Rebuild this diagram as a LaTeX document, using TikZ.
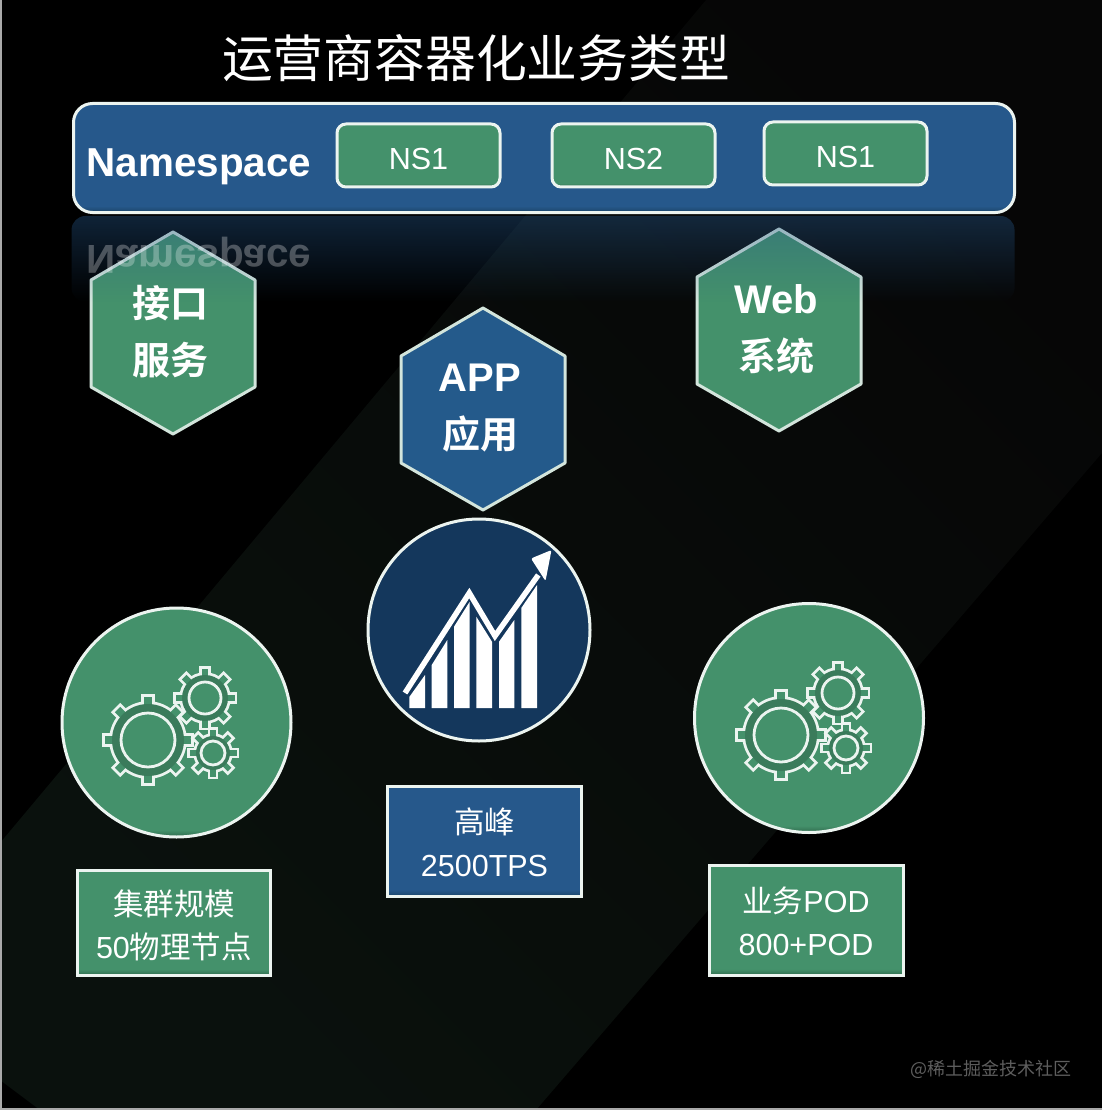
\documentclass[tikz,border=0pt]{standalone}
\usepackage{fontspec}
\setmainfont{Liberation Sans}
\newfontfamily\cjk{Noto Sans CJK SC}
\newfontfamily\cjkb{Noto Sans CJK SC Bold}
\usetikzlibrary{fadings}
\definecolor{bandlow}{HTML}{0A110D}
\definecolor{bandhigh}{HTML}{060606}
\definecolor{nsblue}{HTML}{26588B}
\definecolor{nsdark}{HTML}{1B4468}
\definecolor{appblue}{HTML}{245A8B}
\definecolor{navy}{HTML}{14375C}
\definecolor{grn}{HTML}{44916B}
\definecolor{grndark}{HTML}{2F6A4D}
\definecolor{wm}{HTML}{5E5E5E}
\definecolor{edge}{HTML}{ECF4F0}
\definecolor{frameline}{HTML}{AAAAAA}
\pgfdeclareverticalshading{grnshade}{100bp}{color(0bp)=(grndark);color(25bp)=(grndark);color(28bp)=(grn);color(100bp)=(grn)}
\pgfdeclareverticalshading{grnround}{100bp}{color(0bp)=(grndark);color(25bp)=(grndark);color(26.5bp)=(grn);color(100bp)=(grn)}
\pgfdeclareverticalshading{blueshade}{100bp}{color(0bp)=(nsdark);color(25bp)=(nsdark);color(28bp)=(nsblue);color(100bp)=(nsblue)}
\tikzfading[name=reflectfade,top color=transparent!60,bottom color=transparent!100]
\tikzset{
  x=1pt,y=-1pt,
  hexa/.style={draw=edge!85!grn,line width=3pt,line join=round},
  hextext/.style={text=white,align=center,font=\fontsize{38}{57}\selectfont\cjkb},
  nsbox/.style={draw=edge,shading=grnshade,line width=3pt,rounded corners=9pt,minimum width=163pt,minimum height=63pt,text=white,inner sep=0pt,text height=27.5pt,text depth=0pt,font=\fontsize{30.5}{36}\selectfont},
  infobox/.style={draw=edge,line width=3pt,minimum width=194pt,minimum height=110pt,inner sep=0pt},
  infotext/.style={text=white,align=center,inner sep=0pt,font=\fontsize{30.5}{43}\selectfont},
  disc/.style={circle,draw=edge,line width=3pt,inner sep=0pt},
  gearline/.style={draw=edge,line width=2.8pt},
  nstext/.style={font=\fontsize{40.4}{48}\selectfont\bfseries,text=white,inner sep=0pt},
}
\newcommand{\latinb}[1]{{\fontsize{40}{57}\selectfont\normalfont\bfseries #1}}
% center x, center y, radius, tooth half width, tooth outer radius, hole radius, teeth
\newcommand{\gearicon}[7]{%
  \begin{scope}[shift={(#1,#2)}]
    \pgfmathsetmacro{\gstep}{360/#7}
    \foreach \ga in {1,...,#7}{
      \begin{scope}[rotate=\ga*\gstep]
        \draw[gearline,fill=edge,line width=5.6pt] (#4,0) rectangle (-#4,-#5);
      \end{scope}}
    \draw[gearline,line width=5.6pt,fill=edge] (0,0) circle (#3);
    \foreach \ga in {1,...,#7}{
      \begin{scope}[rotate=\ga*\gstep]
        \fill[grn] (#4,0) rectangle (-#4,-#5);
      \end{scope}}
    \fill[grn!85!black] (0,0) circle (#3);
    \draw[gearline,fill=grn] (0,0) circle (#6);
  \end{scope}}
\newcommand{\hexpath}[2]{(#1,#2) -- ++(82,48) -- ++(0,107) -- ++(-82,47) -- ++(-82,-47) -- ++(0,-107) -- cycle}
\begin{document}
\begin{tikzpicture}
\useasboundingbox (0,0) rectangle (1102,1110);
\fill[black] (0,0) rectangle (1102,1110);
% diagonal band of the background
\shade[top color=bandhigh,bottom color=bandlow,shading angle=-45]
  (0,843) -- (706,0) -- (1102,0) -- (1102,453) -- (536,1110) -- (40,1110) -- (0,1080) -- cycle;
% frame lines at left and bottom
\fill[frameline] (0,0) rectangle (2,1110);
\fill[frameline] (0,1107.5) rectangle (1102,1110);
% title
\node[font=\fontsize{50.8}{60}\selectfont\cjk,text=white,inner sep=0pt] (title) at (476,58) {运营商容器化业务类型};
% hexagons
\draw[hexa,fill=grn] \hexpath{173}{232};
\draw[hexa,fill=appblue] \hexpath{483}{308};
\draw[hexa,fill=grn] \hexpath{779}{229};
% reflection of the bar, lying over the hexagon tops
\fill[nsblue,path fading=reflectfade,rounded corners=14pt] (72,216) rectangle (1016,302);
\node[nstext,opacity=.28,yscale=-1] (refl) at (199,255) {Namespace};
% hexagon labels
\node[hextext] (hexa) at (170,332) {接口\\服务};
\node[hextext] (hexb) at (480,408) {\latinb{APP}\\应用};
\node[hextext] (hexc) at (776,329) {\latinb{Web}\\系统};
% namespace bar
\node[draw=edge,shading=blueshade,line width=3pt,rounded corners=19pt,minimum width=941pt,minimum height=109pt,inner sep=0pt] (bar) at (544,158) {};
\node[nstext] (nslabel) at (199,167) {Namespace};
\node[nsbox] (ns1) at (418.5,155.5) {NS1};
\node[nsbox] (ns2) at (633.5,155.5) {NS2};
\node[nsbox] (ns3) at (845.5,153.5) {NS1};
% discs
\node[disc,shading=grnround,minimum size=229pt] (d1) at (176.5,722.5) {};
\node[disc,fill=navy,minimum size=222pt] (d2) at (479,630) {};
\node[disc,shading=grnround,minimum size=229pt] (d3) at (809,718) {};
% gears left
\gearicon{148}{740}{36}{3.8}{43}{27}{8}
\gearicon{205}{698}{23}{3.2}{29.5}{16}{8}
\gearicon{213}{753}{17}{2.6}{23.5}{12}{8}
% gears right
\gearicon{781}{735}{36}{3.8}{43}{27}{8}
\gearicon{838}{693}{23}{3.2}{29.5}{16}{8}
\gearicon{846}{748}{17}{2.6}{23.5}{12}{8}
% chart
\fill[white] (409.3,697) -- (425,675) -- (425,708) -- (409.3,708) -- cycle;
\fill[white] (431.7,665) -- (447.3,640) -- (447.3,708) -- (431.7,708) -- cycle;
\fill[white] (454,626.7) -- (469.7,601.7) -- (469.7,708) -- (454,708) -- cycle;
\fill[white] (476.3,616.7) -- (492,641.7) -- (492,708) -- (476.3,708) -- cycle;
\fill[white] (499,641.7) -- (514.3,620) -- (514.3,708) -- (499,708) -- cycle;
\fill[white] (521.3,608) -- (537,585) -- (537,708) -- (521.3,708) -- cycle;
\draw[white,line width=5.5pt,line join=miter] (405,693) -- (469.3,593) -- (495,636) -- (538.3,575);
\fill[white,rounded corners=2pt] (551.5,550) -- (545.5,581) -- (531,558.5) -- cycle;
% info boxes
\node[infobox,shading=grnshade,minimum height=105pt,minimum width=193pt] (b1) at (174,923) {};
\node[infotext] (b1t) at (174,925) {{\cjk 集群规模}\\50{\cjk 物理节点}};
\node[infobox,shading=blueshade] (b2) at (484.5,841.5) {};
\node[infotext] (b2t) at (484.5,842.5) {{\cjk 高峰}\\2500TPS};
\node[infobox,shading=grnshade] (b3) at (806.5,920.5) {};
\node[infotext] (b3t) at (806,921.5) {{\cjk 业务}POD\\800+POD};
% watermark
\node[font=\fontsize{18}{22}\selectfont\cjk,text=wm,anchor=east,inner sep=0pt] (wm) at (1072,1069) {@稀土掘金技术社区};
\end{tikzpicture}
\end{document}
